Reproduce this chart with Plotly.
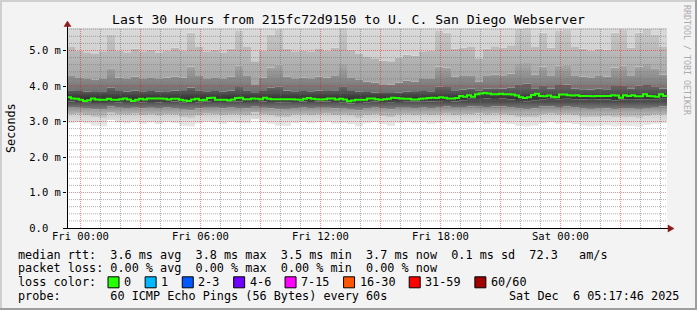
import pandas as pd
import plotly.graph_objects as go

# ---------------- data ----------------
start_time = "2025-12-04 23:19:30"
span_hours = 30
median_step_min = 12
smoke_step_min = 24

median_rtt = [
    3.68, 3.65, 3.64, 3.61, 3.58, 3.60, 3.65, 3.62, 3.61, 3.61, 3.64, 3.61, 3.61, 3.63, 3.65, 3.62, 3.58, 3.61, 3.64, 3.62, 3.65, 3.65, 3.65, 3.65, 3.64,
    3.62, 3.64, 3.64, 3.61, 3.59, 3.58, 3.62, 3.64, 3.60, 3.61, 3.66, 3.67, 3.61, 3.61, 3.61, 3.60, 3.62, 3.66, 3.67, 3.63, 3.63, 3.65, 3.64, 3.63, 3.67,
    3.64, 3.63, 3.63, 3.63, 3.63, 3.63, 3.63, 3.62, 3.61, 3.64, 3.66, 3.64, 3.63, 3.62, 3.63, 3.65, 3.65, 3.62, 3.64, 3.62, 3.57, 3.59, 3.61, 3.61, 3.61,
    3.65, 3.65, 3.63, 3.61, 3.63, 3.64, 3.67, 3.66, 3.65, 3.64, 3.64, 3.62, 3.62, 3.64, 3.65, 3.66, 3.67, 3.66, 3.68, 3.67, 3.65, 3.65, 3.66, 3.72, 3.70,
    3.74, 3.70, 3.77, 3.79, 3.80, 3.79, 3.77, 3.77, 3.78, 3.77, 3.77, 3.76, 3.73, 3.68, 3.66, 3.68, 3.75, 3.78, 3.72, 3.71, 3.73, 3.70, 3.68, 3.76, 3.76,
    3.74, 3.73, 3.74, 3.72, 3.72, 3.72, 3.71, 3.72, 3.72, 3.72, 3.72, 3.74, 3.73, 3.67, 3.74, 3.72, 3.74, 3.71, 3.71, 3.77, 3.72, 3.71, 3.70, 3.77, 3.72,
]

smoke_min = [
    2.96, 2.98, 2.95, 2.88, 2.86, 3.04, 2.97, 2.95, 2.99, 2.94,
    2.97, 2.93, 2.98, 2.96, 2.87, 2.86, 2.95, 2.99, 2.97, 2.94,
    2.98, 2.96, 2.95, 3.06, 2.97, 2.94, 2.88, 2.87, 2.96, 2.98,
    2.95, 2.97, 2.99, 2.94, 2.96, 2.93, 2.86, 2.95, 2.97, 2.92,
    2.87, 2.96, 2.98, 2.95, 2.97, 2.94, 2.96, 2.99, 2.95, 2.97,
    2.96, 2.98, 2.94, 2.97, 2.95, 2.93, 2.87, 2.86, 2.88, 2.95,
    2.97, 2.94, 2.96, 2.93, 2.88, 2.86, 2.87, 2.89, 2.86, 2.88,
    2.87, 2.85, 2.90, 2.94, 2.96,
]
smoke_p10 = [
    3.20, 3.22, 3.18, 3.12, 3.10, 3.25, 3.20, 3.19, 3.22, 3.17,
    3.20, 3.16, 3.21, 3.19, 3.11, 3.10, 3.18, 3.22, 3.20, 3.17,
    3.21, 3.19, 3.18, 3.27, 3.20, 3.17, 3.12, 3.11, 3.19, 3.21,
    3.18, 3.20, 3.22, 3.17, 3.19, 3.16, 3.10, 3.18, 3.20, 3.15,
    3.11, 3.19, 3.21, 3.18, 3.20, 3.17, 3.19, 3.22, 3.18, 3.20,
    3.21, 3.23, 3.19, 3.22, 3.20, 3.18, 3.12, 3.11, 3.13, 3.20,
    3.22, 3.19, 3.21, 3.18, 3.13, 3.11, 3.12, 3.14, 3.11, 3.13,
    3.12, 3.10, 3.15, 3.19, 3.21,
]
smoke_p25 = [
    3.40, 3.41, 3.38, 3.34, 3.33, 3.42, 3.39, 3.38, 3.41, 3.37,
    3.39, 3.36, 3.40, 3.38, 3.33, 3.32, 3.37, 3.41, 3.39, 3.37,
    3.40, 3.38, 3.37, 3.44, 3.39, 3.37, 3.34, 3.33, 3.38, 3.40,
    3.38, 3.39, 3.41, 3.37, 3.38, 3.35, 3.32, 3.38, 3.40, 3.36,
    3.34, 3.39, 3.41, 3.38, 3.40, 3.38, 3.40, 3.42, 3.39, 3.41,
    3.42, 3.44, 3.41, 3.43, 3.42, 3.40, 3.36, 3.35, 3.37, 3.42,
    3.43, 3.41, 3.42, 3.40, 3.36, 3.35, 3.36, 3.37, 3.35, 3.36,
    3.36, 3.35, 3.38, 3.41, 3.42,
]
smoke_p40 = [
    3.56, 3.55, 3.53, 3.52, 3.52, 3.55, 3.54, 3.55, 3.56, 3.54,
    3.55, 3.54, 3.55, 3.56, 3.53, 3.52, 3.54, 3.56, 3.55, 3.55,
    3.57, 3.56, 3.55, 3.58, 3.56, 3.55, 3.54, 3.53, 3.55, 3.56,
    3.55, 3.56, 3.56, 3.55, 3.54, 3.51, 3.52, 3.54, 3.56, 3.55,
    3.53, 3.55, 3.57, 3.56, 3.57, 3.56, 3.57, 3.58, 3.56, 3.60,
    3.64, 3.66, 3.65, 3.66, 3.65, 3.62, 3.58, 3.57, 3.60, 3.63,
    3.64, 3.63, 3.64, 3.63, 3.62, 3.61, 3.62, 3.62, 3.60, 3.62,
    3.61, 3.62, 3.63, 3.63, 3.64,
]
smoke_p60 = [
    3.88, 3.86, 3.84, 3.83, 3.85, 3.95, 3.86, 3.84, 3.87, 3.85,
    3.86, 3.84, 3.85, 3.87, 3.86, 3.96, 3.88, 3.85, 3.86, 3.84,
    3.87, 3.97, 3.88, 3.80, 3.86, 3.95, 3.98, 3.87, 3.85, 3.86,
    3.85, 3.87, 3.86, 3.88, 3.99, 3.86, 3.84, 3.83, 3.82, 3.80,
    3.80, 3.82, 3.84, 3.83, 3.86, 3.85, 3.98, 3.97, 3.88, 3.90,
    3.93, 3.88, 3.92, 3.94, 3.93, 3.95, 4.05, 4.06, 3.94, 4.02,
    3.93, 4.03, 4.04, 3.92, 3.91, 3.90, 3.92, 3.91, 4.00, 4.02,
    3.92, 4.01, 4.03, 3.99, 3.93,
]
smoke_p75 = [
    4.30, 4.25, 4.20, 4.18, 4.22, 4.50, 4.24, 4.20, 4.26, 4.22,
    4.25, 4.20, 4.23, 4.27, 4.24, 4.55, 4.28, 4.22, 4.25, 4.20,
    4.26, 4.58, 4.30, 4.05, 4.24, 4.52, 4.60, 4.27, 4.22, 4.24,
    4.22, 4.26, 4.24, 4.28, 4.62, 4.25, 4.18, 4.12, 4.10, 4.05,
    4.04, 4.10, 4.15, 4.12, 4.20, 4.22, 4.55, 4.52, 4.26, 4.28,
    4.30, 4.12, 4.28, 4.32, 4.30, 4.35, 4.62, 4.65, 4.32, 4.55,
    4.30, 4.58, 4.60, 4.30, 4.27, 4.25, 4.28, 4.26, 4.52, 4.58,
    4.30, 4.55, 4.62, 4.50, 4.32,
]
smoke_p90 = [
    5.10, 5.00, 4.95, 4.90, 4.98, 5.45, 5.00, 4.95, 5.05, 4.98,
    5.02, 4.95, 5.00, 5.08, 5.00, 5.50, 5.10, 4.98, 5.02, 4.95,
    5.05, 5.55, 5.10, 4.70, 5.00, 5.45, 5.60, 5.05, 4.98, 5.00,
    4.98, 5.04, 5.00, 5.08, 5.65, 5.02, 4.90, 4.82, 4.78, 4.72,
    4.70, 4.80, 4.88, 4.85, 4.98, 5.00, 5.55, 5.50, 5.05, 5.08,
    5.10, 4.78, 5.05, 5.12, 5.08, 5.15, 5.62, 5.65, 5.10, 5.50,
    5.08, 5.55, 5.60, 5.10, 5.05, 5.00, 5.05, 5.02, 5.50, 5.58,
    5.08, 5.50, 5.62, 5.45, 5.10,
]
smoke_max = [
    7.4, 6.9, 6.6, 6.5, 6.8, 8.6, 7.0, 6.6, 7.1, 6.7,
    7.0, 6.6, 6.9, 7.2, 6.9, 8.8, 7.3, 6.8, 7.0, 6.6,
    7.1, 8.9, 7.3, 6.2, 6.9, 8.5, 9.1, 7.1, 6.8, 6.9,
    6.8, 7.0, 6.9, 7.2, 9.3, 7.0, 6.6, 6.4, 6.3, 6.2,
    6.1, 6.3, 6.5, 6.4, 6.8, 6.9, 8.7, 8.5, 7.1, 7.2,
    7.3, 6.3, 7.1, 7.4, 7.2, 7.5, 9.2, 9.4, 7.3, 8.6,
    7.2, 8.8, 9.0, 7.3, 7.1, 7.0, 7.2, 7.1, 8.5, 8.9,
    7.2, 8.6, 9.2, 8.4, 7.3,
]

y_tick_vals = [0, 1, 2, 3, 4, 5]
y_tick_text = ["0.0  ", "1.0 m", "2.0 m", "3.0 m", "4.0 m", "5.0 m"]
x_tick_times = ["2025-12-05 00:00", "2025-12-05 06:00", "2025-12-05 12:00",
                "2025-12-05 18:00", "2025-12-06 00:00"]
x_tick_text = ["Fri 00:00", "Fri 06:00", "Fri 12:00", "Fri 18:00", "Sat 00:00"]

title_text = "Last 30 Hours from 215fc72d9150 to U. C. San Diego Webserver"
y_title = "Seconds"
watermark = "RRDTOOL / TOBI OETIKER"
legend_line1 = "median rtt:  3.6 ms avg  3.8 ms max  3.5 ms min  3.7 ms now  0.1 ms sd  72.3   am/s"
legend_line2 = "packet loss: 0.00 % avg  0.00 % max  0.00 % min  0.00 % now"
legend_line3 = "loss color:"
legend_line4 = "probe:       60 ICMP Echo Pings (56 Bytes) every 60s"
stamp_text = "Sat Dec  6 05:17:46 2025"
loss_labels = ["0", "1", "2-3", "4-6", "7-15", "16-30", "31-59", "60/60"]
loss_colors = ["#26ff00", "#00b8ff", "#0059ff", "#7000ff", "#ff00ff", "#ff5500", "#ff0000", "#a10000"]

# ---------------- layout constants ----------------
W, H = 697, 310
L, PW, T, PH = 67, 600, 28, 200
PX_PER_MS = 35.5
FONT = "DejaVu Sans Mono"
CHAR_W = 7.13


def px_x(px):
    return (px - L) / PW


def px_y(py):
    return (T + PH - py) / PH


def nb(s):
    return s.replace(" ", "\u00a0")


t0 = pd.Timestamp(start_time)
t1 = t0 + pd.Timedelta(hours=span_hours)
y_max = PH / PX_PER_MS

fig = go.Figure()

# ---- smoke: stepped quantile boundaries, regions filled with vertical gradients ----
n_smoke = len(smoke_min)
smoke_edges = [t0 + pd.Timedelta(minutes=smoke_step_min * j) for j in range(n_smoke + 1)]


def ext(a):
    return list(a) + [a[-1]]


levels = [smoke_min, smoke_p10, smoke_p25, smoke_p40, smoke_p60, smoke_p75, smoke_p90, smoke_max]
# (gradient start, gradient stop, colorscale) for the region below each level (from 2nd level on)
region_grad = [
    None,
    (2.90, 3.25, [[0, "#e8e8e8"], [1, "#cacaca"]]),
    (3.10, 3.42, [[0, "#cdcdcd"], [1, "#8a8a8a"]]),
    (3.30, 3.58, [[0, "#8c8c8c"], [1, "#484848"]]),
    (3.50, 3.95, [[0, "#4e4e4e"], [0.33, "#343434"], [1, "#626262"]]),
    (3.80, 4.60, [[0, "#6c6c6c"], [1, "#a8a8a8"]]),
    (4.10, 5.60, [[0, "#a4a4a4"], [1, "#c9c9c9"]]),
    (4.70, 6.00, [[0, "#cecece"], [1, "#dedede"]]),
]
for lev, grad in zip(levels, region_grad):
    kw = dict(x=smoke_edges, y=ext(lev), mode="lines", line=dict(width=0, shape="hv"),
              hoverinfo="skip", showlegend=False)
    if grad is not None:
        g0, g1, cs = grad
        kw["fill"] = "tonexty"
        kw["fillgradient"] = dict(type="vertical", start=g0, stop=g1, colorscale=cs)
    fig.add_trace(go.Scatter(**kw))

# ---- grid (drawn over the smoke, under the median) ----
day0 = pd.Timestamp("2025-12-05 00:00")
minor_vx, major_vx = [], []
h = -1
while day0 + pd.Timedelta(hours=h) <= t1:
    tt = day0 + pd.Timedelta(hours=h)
    if tt >= t0:
        (major_vx if h % 3 == 0 else minor_vx).append(tt)
    h += 1
minor_hy, major_hy = [], []
for i in range(1, 29):
    v = round(i * 0.2, 2)
    if v > y_max:
        break
    (major_hy if i % 5 == 0 else minor_hy).append(v)


def vlines(ts):
    xs, ys = [], []
    for t in ts:
        xs += [t, t, None]
        ys += [0, y_max, None]
    return xs, ys


def hlines(vs):
    xs, ys = [], []
    for v in vs:
        xs += [t0, t1, None]
        ys += [v, v, None]
    return xs, ys


for (xs, ys), col in [
    (vlines(minor_vx), "rgba(110,110,110,0.55)"),
    (hlines(minor_hy), "rgba(110,110,110,0.55)"),
    (vlines(major_vx), "rgba(235,0,0,0.45)"),
    (hlines(major_hy), "rgba(235,0,0,0.45)"),
]:
    fig.add_trace(go.Scatter(x=xs, y=ys, mode="lines",
                             line=dict(color=col, width=1, dash="1px,1px"),
                             hoverinfo="skip", showlegend=False))

# ---- median line ----
med_x = [t0 + pd.Timedelta(minutes=median_step_min * k) for k in range(len(median_rtt) + 1)]
fig.add_trace(go.Scatter(x=med_x, y=ext(median_rtt), mode="lines",
                         line=dict(color="#26ff00", width=2, shape="hv"),
                         hoverinfo="skip", showlegend=False))

# ---- shapes: frame, axes, arrows, legend boxes ----
shapes = []
shapes.append(dict(type="rect", xref="paper", yref="paper", x0=px_x(0), x1=px_x(W), y0=px_y(0), y1=px_y(2),
                   fillcolor="#cfcfcf", line=dict(width=0), layer="above"))
shapes.append(dict(type="rect", xref="paper", yref="paper", x0=px_x(0), x1=px_x(2), y0=px_y(0), y1=px_y(H),
                   fillcolor="#cfcfcf", line=dict(width=0), layer="above"))
shapes.append(dict(type="rect", xref="paper", yref="paper", x0=px_x(0), x1=px_x(W), y0=px_y(H - 2), y1=px_y(H),
                   fillcolor="#9e9e9e", line=dict(width=0), layer="above"))
shapes.append(dict(type="rect", xref="paper", yref="paper", x0=px_x(W - 2), x1=px_x(W), y0=px_y(0), y1=px_y(H),
                   fillcolor="#9e9e9e", line=dict(width=0), layer="above"))
# axes
shapes.append(dict(type="line", xref="paper", yref="paper", x0=px_x(67.5), x1=px_x(67.5), y0=px_y(228), y1=px_y(25),
                   line=dict(color="#000000", width=1), layer="above"))
shapes.append(dict(type="line", xref="paper", yref="paper", x0=px_x(66), x1=px_x(670), y0=px_y(228.5), y1=px_y(228.5),
                   line=dict(color="#000000", width=1), layer="above"))
# arrows
shapes.append(dict(type="path", xref="paper", yref="paper",
                   path="M %f %f L %f %f L %f %f Z" % (px_x(64), px_y(26.5), px_x(71), px_y(26.5), px_x(67.5), px_y(21)),
                   fillcolor="#8b1a1a", line=dict(color="#8b1a1a", width=0.5), layer="above"))
shapes.append(dict(type="path", xref="paper", yref="paper",
                   path="M %f %f L %f %f L %f %f Z" % (px_x(668), px_y(225), px_x(668), px_y(232), px_x(674), px_y(228.5)),
                   fillcolor="#8b1a1a", line=dict(color="#8b1a1a", width=0.5), layer="above"))

annotations = []
line_y = [254.5, 268.3, 282.3, 296.2]
# loss colour boxes
sx = 108
for lab, col in zip(loss_labels, loss_colors):
    shapes.append(dict(type="rect", xref="paper", yref="paper", x0=px_x(sx), x1=px_x(sx + 11),
                       y0=px_y(line_y[2] + 5.5), y1=px_y(line_y[2] - 5.5),
                       fillcolor=col, line=dict(color="#000000", width=1), layer="above"))
    annotations.append(dict(xref="paper", yref="paper", x=px_x(sx + 14), y=px_y(line_y[2]), text=nb(lab),
                            showarrow=False, xanchor="left", yanchor="middle",
                            font=dict(family=FONT, size=11.8, color="#000000")))
    sx += len(lab) * CHAR_W + 30

# texts
annotations.append(dict(xref="paper", yref="paper", x=px_x(348.5), y=px_y(19), text=nb(title_text), showarrow=False,
                        xanchor="center", yanchor="middle", font=dict(family=FONT, size=13.1, color="#000000")))
annotations.append(dict(xref="paper", yref="paper", x=px_x(11), y=px_y(128), text=nb(y_title), showarrow=False,
                        textangle=-90, xanchor="center", yanchor="middle",
                        font=dict(family=FONT, size=11.8, color="#000000")))
annotations.append(dict(xref="paper", yref="paper", x=px_x(687), y=px_y(60), text=nb(watermark), showarrow=False,
                        textangle=90, xanchor="center", yanchor="middle",
                        font=dict(family=FONT, size=8.3, color="#ababab")))
for txt, yy in [(legend_line1, line_y[0]), (legend_line2, line_y[1]), (legend_line3, line_y[2]), (legend_line4, line_y[3])]:
    annotations.append(dict(xref="paper", yref="paper", x=px_x(16), y=px_y(yy), text=nb(txt), showarrow=False,
                            xanchor="left", yanchor="middle", font=dict(family=FONT, size=11.8, color="#000000")))
annotations.append(dict(xref="paper", yref="paper", x=px_x(681), y=px_y(line_y[3]), text=nb(stamp_text),
                        showarrow=False, xanchor="right", yanchor="middle",
                        font=dict(family=FONT, size=11.8, color="#000000")))

fig.update_layout(
    width=W, height=H,
    margin=dict(l=L, r=W - L - PW, t=T, b=H - T - PH, pad=0),
    paper_bgcolor="#f3f3f3", plot_bgcolor="#ffffff",
    showlegend=False,
    shapes=shapes, annotations=annotations,
    xaxis=dict(type="date", range=[t0, t1], tickvals=[pd.Timestamp(t) for t in x_tick_times], ticktext=x_tick_text,
               showgrid=False, zeroline=False, showline=False, ticks="",
               tickfont=dict(family=FONT, size=10.5, color="#000000")),
    yaxis=dict(range=[0, y_max], tickvals=y_tick_vals, ticktext=[nb(s) for s in y_tick_text],
               showgrid=False, zeroline=False, showline=False, ticks="outside", ticklen=3, tickcolor="#000000",
               tickfont=dict(family=FONT, size=10.5, color="#000000")),
)

fig.write_html("out.html", config=dict(displayModeBar=False))
